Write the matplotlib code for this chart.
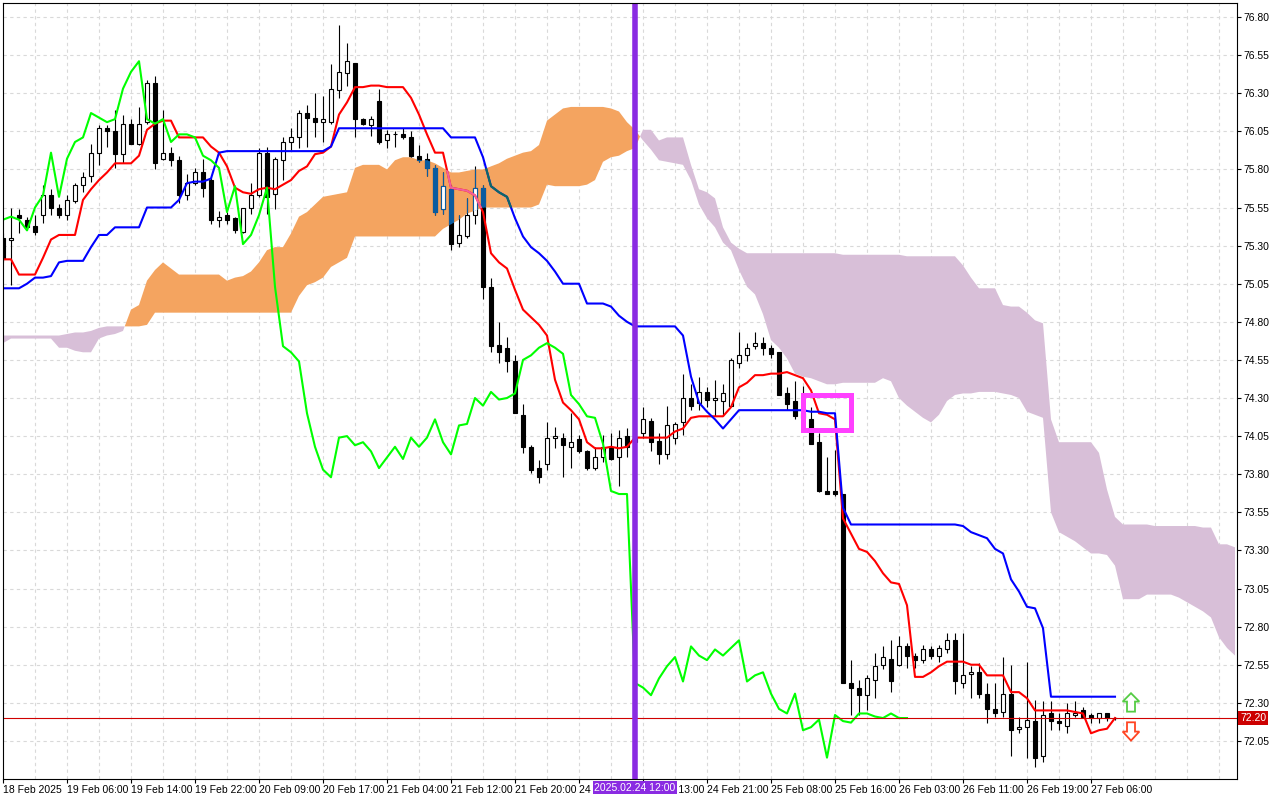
import numpy as np
import matplotlib
matplotlib.use("Agg")
import matplotlib.pyplot as plt
from matplotlib.path import Path
from matplotlib.patches import Rectangle, Polygon
from matplotlib.transforms import blended_transform_factory

plt.rcParams['font.family'] = ['Liberation Sans', 'DejaVu Sans']

# ---------------- data (H1 bars) ----------------
opens = [75.35, 75.34, 75.50, 75.47, 75.43, 75.50, 75.63, 75.55, 75.50, 75.59,
         75.70, 75.76, 75.91, 76.07, 76.05, 75.90, 76.10, 75.97, 76.11, 76.37,
         75.87, 75.91, 75.86, 75.63, 75.71, 75.78, 75.73, 75.47, 75.50, 75.48,
         75.39, 75.55, 75.63, 75.91, 75.64, 75.86, 75.98, 76.01, 76.17, 76.14,
         76.11, 76.11, 76.32, 76.43, 76.50, 76.13, 76.09, 76.25, 75.99, 76.03,
         76.03, 76.01, 75.89, 75.87, 75.81, 75.54, 75.67, 75.32, 75.36, 75.50,
         75.68, 75.03, 74.65, 74.63, 74.54, 74.19, 73.98, 73.84, 73.87, 74.04,
         74.04, 73.98, 74.03, 73.95, 73.84, 73.91, 73.98, 73.91, 74.05, 74.01,
         74.07, 74.15, 74.02, 73.93, 74.04, 74.14, 74.30, 74.27, 74.34, 74.29,
         74.28, 74.25, 74.53, 74.58, 74.64, 74.66, 74.63, 74.60, 74.33, 74.28,
         74.20, 74.16, 74.01, 73.69, 73.69, 73.67, 72.43, 72.40, 72.35, 72.45,
         72.55, 72.59, 72.55, 72.67, 72.61, 72.58, 72.65, 72.61, 72.65, 72.71,
         72.43, 72.49, 72.50, 72.36, 72.26, 72.24, 72.36, 72.13, 72.14, 72.18,
         71.95, 72.23, 72.18, 72.15, 72.22, 72.25, 72.22, 72.20, 72.23, 72.20]
highs = [75.38, 75.55, 75.54, 75.49, 75.50, 75.70, 75.67, 75.57, 75.63, 75.71,
         75.78, 75.97, 76.09, 76.09, 76.19, 76.16, 76.13, 76.21, 76.39, 76.41,
         76.19, 75.95, 75.89, 75.77, 75.81, 75.87, 75.75, 75.53, 75.52, 75.49,
         75.55, 75.71, 75.94, 75.95, 75.88, 76.01, 76.07, 76.19, 76.22, 76.30,
         76.28, 76.49, 76.75, 76.63, 76.50, 76.14, 76.15, 76.33, 76.06, 76.05,
         76.07, 76.05, 75.96, 75.91, 75.83, 75.78, 75.70, 75.50, 75.61, 75.82,
         75.70, 75.09, 74.80, 74.70, 74.58, 74.26, 73.99, 73.89, 74.14, 74.11,
         74.07, 74.20, 74.06, 73.96, 73.98, 74.06, 74.07, 74.09, 74.10, 74.09,
         74.24, 74.17, 74.07, 74.25, 74.14, 74.46, 74.39, 74.44, 74.37, 74.42,
         74.39, 74.56, 74.73, 74.66, 74.73, 74.70, 74.65, 74.60, 74.37, 74.41,
         74.38, 74.24, 74.07, 73.91, 73.96, 73.67, 72.58, 72.45, 72.48, 72.63,
         72.67, 72.71, 72.74, 72.69, 72.63, 72.68, 72.67, 72.68, 72.76, 72.76,
         72.76, 72.54, 72.56, 72.43, 72.43, 72.60, 72.55, 72.21, 72.57, 72.32,
         72.31, 72.31, 72.23, 72.30, 72.31, 72.27, 72.23, 72.23, 72.23, 72.21]
lows = [75.19, 75.04, 75.38, 75.40, 75.37, 75.45, 75.50, 75.48, 75.47, 75.58,
        75.65, 75.72, 75.83, 75.95, 75.81, 75.84, 75.97, 75.96, 76.10, 75.80,
        75.86, 75.82, 75.58, 75.60, 75.70, 75.62, 75.44, 75.42, 75.44, 75.38,
        75.38, 75.51, 75.62, 75.51, 75.54, 75.73, 75.93, 75.94, 75.95, 76.01,
        75.98, 76.10, 76.27, 76.35, 76.01, 76.09, 76.02, 75.97, 75.94, 75.95,
        76.00, 75.88, 75.85, 75.76, 75.50, 75.51, 75.27, 75.29, 75.35, 75.44,
        74.95, 74.60, 74.53, 74.47, 74.20, 73.94, 73.81, 73.74, 73.83, 73.97,
        73.78, 73.84, 73.94, 73.83, 73.83, 73.88, 73.89, 73.72, 73.91, 73.97,
        74.04, 73.95, 73.87, 73.90, 74.00, 74.06, 74.22, 74.22, 74.24, 74.18,
        74.19, 74.25, 74.50, 74.54, 74.62, 74.58, 74.56, 74.32, 74.22, 74.16,
        74.16, 74.00, 73.68, 73.67, 73.66, 72.43, 72.22, 72.22, 72.25, 72.33,
        72.52, 72.37, 72.54, 72.53, 72.53, 72.56, 72.59, 72.57, 72.63, 72.36,
        72.40, 72.33, 72.33, 72.17, 72.21, 72.21, 71.95, 72.10, 71.94, 71.88,
        71.91, 72.12, 72.12, 72.10, 72.21, 72.21, 72.17, 72.17, 72.18, 72.19]
closes = [75.21, 75.35, 75.48, 75.42, 75.39, 75.63, 75.55, 75.50, 75.60, 75.70,
          75.75, 75.91, 76.07, 76.05, 75.90, 76.10, 75.97, 76.10, 76.37, 75.84,
          75.91, 75.86, 75.63, 75.71, 75.78, 75.68, 75.47, 75.49, 75.47, 75.40,
          75.55, 75.63, 75.91, 75.62, 75.87, 75.98, 76.01, 76.17, 76.14, 76.11,
          76.13, 76.33, 76.44, 76.51, 76.13, 76.10, 76.13, 75.98, 76.03, 76.03,
          76.01, 75.89, 75.86, 75.81, 75.52, 75.69, 75.31, 75.37, 75.50, 75.68,
          75.03, 74.64, 74.60, 74.54, 74.20, 73.98, 73.83, 73.78, 74.04, 74.05,
          73.99, 74.01, 73.95, 73.84, 73.91, 73.98, 73.90, 74.04, 73.98, 74.04,
          74.16, 74.01, 73.93, 74.12, 74.13, 74.30, 74.25, 74.34, 74.29, 74.30,
          74.33, 74.55, 74.58, 74.63, 74.66, 74.63, 74.59, 74.32, 74.26, 74.18,
          74.17, 74.00, 73.69, 73.67, 73.67, 72.43, 72.40, 72.35, 72.46, 72.54,
          72.60, 72.44, 72.67, 72.61, 72.58, 72.65, 72.61, 72.66, 72.71, 72.44,
          72.48, 72.50, 72.36, 72.26, 72.23, 72.36, 72.12, 72.14, 72.19, 71.94,
          72.22, 72.18, 72.17, 72.23, 72.23, 72.21, 72.20, 72.23, 72.20, 72.20]

tenkan = [75.21, 75.21, 75.11, 75.11, 75.11, 75.22, 75.34, 75.37, 75.37, 75.37,
          75.60, 75.67, 75.73, 75.78, 75.84, 75.84, 75.84, 75.89, 76.06, 76.10,
          76.12, 76.12, 76.01, 76.01, 76.01, 76.01, 75.95, 75.91, 75.82, 75.68,
          75.65, 75.64, 75.67, 75.68, 75.67, 75.70, 75.73, 75.79, 75.82, 75.90,
          75.91, 75.95, 76.16, 76.24, 76.34, 76.34, 76.35, 76.35, 76.34, 76.34,
          76.34, 76.27, 76.16, 76.03, 75.91, 75.91, 75.68, 75.67, 75.66, 75.63,
          75.52, 75.25, 75.19, 75.15, 75.01, 74.88, 74.83, 74.78, 74.71, 74.42,
          74.27, 74.22, 74.16, 74.01, 73.97, 73.97, 73.98, 73.97, 73.98, 74.04,
          74.04, 74.04, 74.04, 74.04, 74.08, 74.10, 74.17, 74.18, 74.18, 74.18,
          74.18, 74.24, 74.37, 74.40, 74.45, 74.45, 74.46, 74.46, 74.47, 74.45,
          74.43, 74.35, 74.20, 74.19, 74.16, 73.51, 73.41, 73.31, 73.29, 73.23,
          73.15, 73.09, 73.08, 72.94, 72.47, 72.47, 72.50, 72.54, 72.57, 72.57,
          72.57, 72.55, 72.55, 72.48, 72.48, 72.48, 72.37, 72.37, 72.33, 72.25,
          72.25, 72.25, 72.25, 72.25, 72.24, 72.23, 72.10, 72.12, 72.13, 72.20]
kijun = [75.02, 75.02, 75.02, 75.05, 75.09, 75.09, 75.10, 75.19, 75.20, 75.20,
         75.20, 75.29, 75.37, 75.37, 75.42, 75.42, 75.42, 75.42, 75.55, 75.55,
         75.55, 75.55, 75.60, 75.71, 75.72, 75.72, 75.74, 75.91, 75.92, 75.92,
         75.92, 75.92, 75.92, 75.92, 75.92, 75.92, 75.92, 75.92, 75.92, 75.92,
         75.92, 75.95, 76.07, 76.07, 76.07, 76.07, 76.07, 76.07, 76.07, 76.07,
         76.07, 76.07, 76.07, 76.07, 76.07, 76.07, 76.01, 76.01, 76.01, 76.01,
         75.88, 75.69, 75.65, 75.62, 75.48, 75.36, 75.29, 75.25, 75.20, 75.13,
         75.05, 75.05, 75.05, 74.92, 74.92, 74.92, 74.90, 74.84, 74.80, 74.77,
         74.77, 74.77, 74.77, 74.77, 74.77, 74.71, 74.44, 74.27, 74.21, 74.16,
         74.10, 74.16, 74.22, 74.22, 74.22, 74.22, 74.22, 74.22, 74.22, 74.22,
         74.22, 74.21, 74.21, 74.20, 74.20, 73.58, 73.47, 73.47, 73.47, 73.47,
         73.47, 73.47, 73.47, 73.47, 73.47, 73.47, 73.47, 73.47, 73.47, 73.47,
         73.46, 73.42, 73.40, 73.38, 73.31, 73.28, 73.11, 73.03, 72.93, 72.92,
         72.79, 72.34, 72.34, 72.34, 72.34, 72.34, 72.34, 72.34, 72.34, 72.34]
# Senkou spans as plotted (already shifted 26 bars forward): 155 values
span_a = [74.66, 74.69, 74.69, 74.69, 74.69, 74.69, 74.69, 74.63, 74.63, 74.61,
          74.60, 74.60, 74.69, 74.71, 74.72, 74.74, 74.88, 74.91, 75.07, 75.14,
          75.19, 75.15, 75.11, 75.11, 75.11, 75.11, 75.11, 75.11, 75.07, 75.09,
          75.10, 75.13, 75.19, 75.27, 75.29, 75.29, 75.38, 75.49, 75.52, 75.57,
          75.62, 75.63, 75.64, 75.65, 75.81, 75.83, 75.83, 75.83, 75.80, 75.86,
          75.88, 75.88, 75.86, 75.86, 75.84, 75.81, 75.78, 75.78, 75.79, 75.80,
          75.80, 75.82, 75.84, 75.87, 75.89, 75.91, 75.92, 75.96, 76.12, 76.16,
          76.20, 76.21, 76.21, 76.21, 76.21, 76.21, 76.20, 76.18, 76.11, 76.06,
          75.99, 75.93, 75.86, 75.85, 75.84, 75.83, 75.73, 75.57, 75.48, 75.42,
          75.32, 75.27, 75.14, 75.03, 74.98, 74.85, 74.68, 74.63, 74.56, 74.46,
          74.44, 74.43, 74.41, 74.39, 74.39, 74.40, 74.40, 74.40, 74.40, 74.40,
          74.43, 74.41, 74.30, 74.25, 74.21, 74.17, 74.14, 74.19, 74.28, 74.32,
          74.33, 74.33, 74.34, 74.34, 74.34, 74.33, 74.32, 74.30, 74.21, 74.19,
          74.17, 73.55, 73.42, 73.39, 73.36, 73.32, 73.28, 73.28, 73.27, 73.20,
          72.98, 72.98, 72.98, 73.01, 73.01, 73.01, 73.01, 72.99, 72.96, 72.93,
          72.90, 72.86, 72.73, 72.66, 72.61]
span_b = [74.71, 74.71, 74.71, 74.71, 74.71, 74.71, 74.71, 74.71, 74.72, 74.73,
          74.73, 74.74, 74.76, 74.77, 74.77, 74.77, 74.77, 74.77, 74.78, 74.86,
          74.86, 74.86, 74.86, 74.86, 74.86, 74.86, 74.86, 74.86, 74.86, 74.86,
          74.86, 74.86, 74.86, 74.86, 74.86, 74.86, 74.86, 74.97, 75.04, 75.06,
          75.09, 75.16, 75.19, 75.22, 75.36, 75.36, 75.36, 75.36, 75.36, 75.36,
          75.36, 75.36, 75.36, 75.36, 75.36, 75.41, 75.44, 75.47, 75.51, 75.53,
          75.55, 75.55, 75.55, 75.55, 75.55, 75.55, 75.55, 75.57, 75.70, 75.69,
          75.69, 75.69, 75.69, 75.70, 75.73, 75.85, 75.88, 75.89, 75.92, 75.94,
          76.06, 76.06, 75.99, 76.01, 76.01, 76.01, 75.83, 75.67, 75.65, 75.61,
          75.42, 75.32, 75.28, 75.25, 75.25, 75.25, 75.25, 75.25, 75.25, 75.25,
          75.25, 75.25, 75.25, 75.25, 75.25, 75.24, 75.24, 75.24, 75.24, 75.24,
          75.24, 75.24, 75.24, 75.23, 75.23, 75.23, 75.23, 75.23, 75.23, 75.23,
          75.17, 75.09, 75.02, 75.02, 75.02, 74.91, 74.90, 74.90, 74.86, 74.81,
          74.79, 74.16, 74.01, 74.01, 74.01, 74.01, 74.01, 73.94, 73.70, 73.52,
          73.47, 73.47, 73.47, 73.47, 73.46, 73.46, 73.46, 73.46, 73.46, 73.46,
          73.45, 73.45, 73.34, 73.34, 73.32]
chikou_shift = 26

x_tick_labels = ["18 Feb 2025", "19 Feb 06:00", "19 Feb 14:00", "19 Feb 22:00",
                 "20 Feb 09:00", "20 Feb 17:00", "21 Feb 04:00", "21 Feb 12:00",
                 "21 Feb 20:00", "24 Feb 05:00", "24 Feb 13:00", "24 Feb 21:00",
                 "25 Feb 08:00", "25 Feb 16:00", "26 Feb 03:00", "26 Feb 11:00",
                 "26 Feb 19:00", "27 Feb 06:00"]
bars_per_label = 8
y_ticks = [72.05, 72.30, 72.55, 72.80, 73.05, 73.30, 73.55, 73.80, 74.05, 74.30,
           74.55, 74.80, 75.05, 75.30, 75.55, 75.80, 76.05, 76.30, 76.55, 76.80]

current_price = 72.20
marker_bar = 79
marker_label = "2025.02.24 12:00"
box_bars = (100.06, 106.0)
box_prices = (74.087, 74.323)
up_arrow = dict(bar=141, tip=72.363, neck=72.308, base=72.242)
down_arrow = dict(bar=141, tip=72.052, neck=72.111, base=72.172)

# ---------------- figure ----------------
W, H = 1280, 800
fig = plt.figure(figsize=(W / 100, H / 100), dpi=100)
ax = fig.add_axes([3 / W, 21 / H, 1234 / W, 776 / H])
ax.set_xlim(0, 154.25)
ax.set_ylim(71.80, 76.892)
ax.set_facecolor('white')

o = np.array(opens); h = np.array(highs); l = np.array(lows); c = np.array(closes)
n = len(c)
xb = np.arange(n)
sa = np.array(span_a); sb = np.array(span_b)
xc = np.arange(len(sa))

grid_kw = dict(color='#D9D9D9', lw=0.8, ls=(0, (3, 3)), zorder=0)
for v in range(4, 155, 4):
    ax.axvline(v, **grid_kw)
for t in y_ticks:
    ax.axhline(t, **grid_kw)

# cloud
orange = ax.fill_between(xc, sa, sb, where=sa >= sb, interpolate=True,
                         facecolor='#F4A460', edgecolor='none', lw=0, zorder=1)
ax.fill_between(xc, sa, sb, where=sa <= sb, interpolate=True,
                facecolor='#D8BFD8', edgecolor='none', lw=0, zorder=1)
clip = Path.make_compound_path(*orange.get_paths())


def draw_candles(dark, z, clip_path=None):
    arts = []
    wicks = ax.vlines(xb, l, h, colors=dark, lw=0.8, zorder=z)
    arts.append(wicks)
    bottoms = np.minimum(o, c)
    heights = np.abs(c - o)
    faces = ['white' if cc >= oo else dark for oo, cc in zip(o, c)]
    bars = ax.bar(xb, heights, bottom=bottoms, width=0.56, color=faces,
                  edgecolor=dark, linewidth=0.8, zorder=z + 0.01)
    arts.extend(bars.patches)
    if clip_path is not None:
        for a in arts:
            a.set_clip_path(clip_path, ax.transData)


draw_candles('black', 2)
draw_candles('#0B5B9F', 2.1, clip)

# Tenkan / Kijun
ax.plot(xb, tenkan, color='#FF0000', lw=1.5, zorder=3, solid_joinstyle='round')
ax.plot(xb, kijun, color='#0000FF', lw=1.5, zorder=3.1, solid_joinstyle='round')
lt, = ax.plot(xb, tenkan, color='#F0609C', lw=1.5, zorder=3.2)
lk, = ax.plot(xb, kijun, color='#0E6A62', lw=1.5, zorder=3.3)
lt.set_clip_path(clip, ax.transData)
lk.set_clip_path(clip, ax.transData)

# Chikou span (closes shifted back)
ax.plot(xb[:n - chikou_shift], c[chikou_shift:], color='#00FF00', lw=1.5, zorder=4)

# current price line
ax.axhline(current_price, color='#D00000', lw=0.8, zorder=5)

# vertical marker
ax.axvline(marker_bar, color='#8A2BE2', lw=4, zorder=6)

# magenta box
ax.add_patch(Rectangle((box_bars[0], box_prices[0]), box_bars[1] - box_bars[0],
                       box_prices[1] - box_prices[0], fill=False,
                       edgecolor='#FF40FF', lw=3.6, joinstyle='miter', zorder=6))

# arrows
def arrow(d, edge):
    xm = d['bar']
    hw, sw = 1.04, 0.5
    pts = [(xm, d['tip']), (xm + hw, d['neck']), (xm + sw, d['neck']),
           (xm + sw, d['base']), (xm - sw, d['base']), (xm - sw, d['neck']),
           (xm - hw, d['neck'])]
    ax.add_patch(Polygon(pts, closed=True, facecolor='white', edgecolor=edge,
                         lw=1.3, zorder=7, joinstyle='miter'))

arrow(up_arrow, '#55CC44')
arrow(down_arrow, '#FF4422')

# axes styling
for s in ax.spines.values():
    s.set_color('black'); s.set_linewidth(0.8); s.set_zorder(8)
ax.yaxis.tick_right()
ax.set_yticks(y_ticks)
ax.set_yticklabels([f"{t:.2f}" for t in y_ticks])
ax.tick_params(axis='y', direction='out', length=3, width=0.8, pad=1.5,
               labelsize=7.5, colors='black')
ax.set_xticks([i * bars_per_label for i in range(len(x_tick_labels))])
ax.set_xticklabels(x_tick_labels)
ax.tick_params(axis='x', direction='out', length=3, width=0.8, pad=1.5,
               labelsize=7.5, colors='black')
for lbl in ax.get_xticklabels():
    lbl.set_horizontalalignment('left')

# labels on axes
tx = blended_transform_factory(ax.transData, ax.transAxes)
ax.text(marker_bar, -0.0048, marker_label, transform=tx, ha='center', va='top',
        color='white', fontsize=7.5, clip_on=False, zorder=20,
        bbox=dict(boxstyle='square,pad=0.12', fc='#8A2BE2', ec='none'))
ty = blended_transform_factory(ax.transAxes, ax.transData)
ax.text(1.0 + 3 / 1234, current_price, f"{current_price:.2f}", transform=ty,
        ha='left', va='center', color='white', fontsize=7.5, clip_on=False,
        zorder=20, bbox=dict(boxstyle='square,pad=0.2', fc='#CC0000', ec='none'))

fig.savefig('out.png', dpi=100)
